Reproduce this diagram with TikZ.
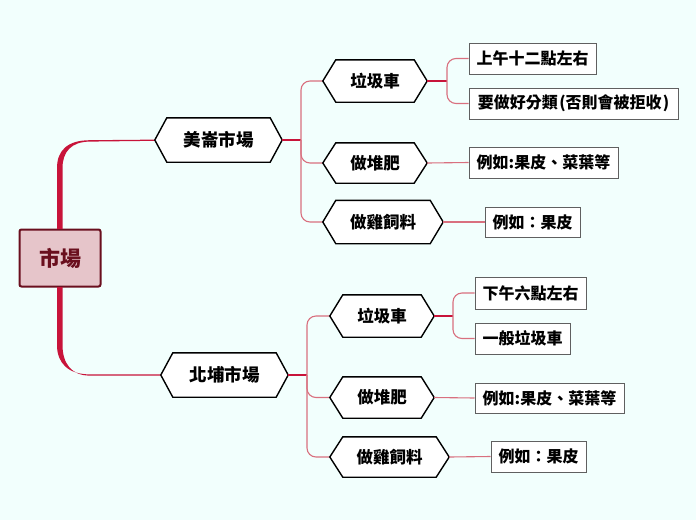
\documentclass[tikz,border=0pt]{standalone}
\usepackage{fontspec}
\setmainfont{Noto Sans CJK TC}
\begin{document}
\begin{tikzpicture}[x=1pt,y=-1pt,
  every node/.style={font=\bfseries},
  hexn/.style={inner sep=0pt, minimum height=42pt, text=black},
  leaf/.style={draw=leafgray, fill=white, line width=1pt, inner sep=0pt, minimum height=31pt, font=\bfseries\fontsize{16}{17}\selectfont},
  mainline/.style={draw=crim, line width=1.1pt},
  subline/.style={draw=pinkl, line width=1.1pt, rounded corners=9pt},
]
\definecolor{bg}{HTML}{F2FFFD}
\definecolor{crim}{HTML}{C8143A}
\definecolor{pinkl}{HTML}{D9707F}
\definecolor{leafgray}{HTML}{606060}
\definecolor{rootfill}{HTML}{E6C5CA}
\definecolor{rootdraw}{HTML}{6A0F1E}
\fill[bg] (0,0) rectangle (696,520);
\useasboundingbox (0,0) rectangle (696,520);

\newcommand{\hexof}[2]{%
  \draw[black, line width=1.4pt, fill=white]
    (#1.west) -- ([xshift=#2pt]#1.north west) -- ([xshift=-#2pt]#1.north east)
    -- (#1.east) -- ([xshift=-#2pt]#1.south east) -- ([xshift=#2pt]#1.south west) -- cycle;}

% root
\node[draw=rootdraw, fill=rootfill, line width=2pt, rounded corners=2pt,
  minimum width=81pt, minimum height=57pt, text=rootdraw,
  font=\bfseries\fontsize{21}{22}\selectfont] (root) at (60,258) {市場};

% tapered main branches
\fill[crim] (57,229) -- (57,168) .. controls (57,150) and (68,140.2) .. (90,140.2)
  -- (156,139.6) -- (156,140.8) -- (90,141.6) .. controls (71,141.6) and (62.5,152) .. (62.5,168)
  -- (62.5,229) -- cycle;
\fill[crim] (57,287) -- (57,345) .. controls (57,363) and (68,374.4) .. (90,374.4)
  -- (162,374.4) -- (162,375.6) -- (90,375.6) .. controls (71,375.6) and (62.5,363) .. (62.5,345)
  -- (62.5,287) -- cycle;

\node[hexn, minimum width=127pt, minimum height=44pt] (a) at (218.5,140) {};
\hexof{a}{12}
\node[font=\bfseries\fontsize{17.5}{18}\selectfont] (at) at (a) {美崙市場};
\node[hexn, minimum width=127pt, minimum height=44pt] (b) at (224.5,375) {};
\hexof{b}{12}
\node[font=\bfseries\fontsize{17.5}{18}\selectfont] (bt) at (b) {北埔市場};

% level 2 (top)
\node[hexn, minimum width=104pt] (a1) at (375,81) {};
\node[hexn, minimum width=104pt, minimum height=40pt] (a2) at (375,163) {};
\node[hexn, minimum width=120pt, minimum height=43pt] (a3) at (383,222) {};
% level 2 (bottom)
\node[hexn, minimum width=104pt] (b1) at (382,316) {};
\node[hexn, minimum width=104pt, minimum height=41pt] (b2) at (382,397.5) {};
\node[hexn, minimum width=119pt, minimum height=40pt] (b3) at (389.5,457) {};

% connectors level1 -> level2
\coordinate (ja) at (301,140);
\coordinate (jb) at (307,375);
\draw[mainline] (a.east) -- (ja);
\draw[mainline] (b.east) -- (jb);
\draw[subline] (a1.west) -| (ja) |- (a3.west);
\draw[subline] (ja) |- (a2.west);
\draw[subline] (b1.west) -| (jb) |- (b3.west);
\draw[subline] (jb) |- (b2.west);

\foreach \n in {a1,a2,a3,b1,b2,b3} {\hexof{\n}{13}}
\begin{scope}[every node/.style={font=\bfseries\fontsize{16.5}{17}\selectfont}]
\node (a1t) at (a1) {垃圾車};
\node (a2t) at (a2) {做堆肥};
\node (a3t) at (a3) {做雞飼料};
\node (b1t) at (b1) {垃圾車};
\node (b2t) at (b2) {做堆肥};
\node (b3t) at (b3) {做雞飼料};
\end{scope}

% leaves top
\node[leaf, minimum width=127pt] (l1) at (532.5,58.5) {上午十二點左右};
\node[leaf, minimum width=209pt] (l2) at (573.5,103.5) {要做好分類\hspace{1.5pt}(否則會被拒收\hspace{1pt})};
\node[leaf, minimum width=149pt] (l3) at (543.5,162.5) {例如:果皮、菜葉等};
\node[leaf, minimum width=95pt, minimum height=30pt] (l4) at (532.5,222) {例如：果皮};
% leaves bottom
\node[leaf, minimum width=111pt, minimum height=32pt] (k1) at (530.5,293) {下午六點左右};
\node[leaf, minimum width=95pt] (k2) at (522.5,338.5) {一般垃圾車};
\node[leaf, minimum width=149pt, minimum height=30pt] (k3) at (549.5,398) {例如:果皮、菜葉等};
\node[leaf, minimum width=95pt] (k4) at (538.5,456.5) {例如：果皮};

% connectors level2 -> leaves
\coordinate (ja1) at (447,81);
\coordinate (jb1) at (453,316);
\draw[mainline] (a1.east) -- (ja1);
\draw[subline] (l1.west) -| (ja1) |- (l2.west);
\draw[subline] (a2.east) -- (l3.west);
\draw[subline] (a3.east) -- (l4.west);
\draw[mainline] (b1.east) -- (jb1);
\draw[subline] (k1.west) -| (jb1) |- (k2.west);
\draw[subline] (b2.east) -- (k3.west);
\draw[subline] (b3.east) -- (k4.west);
\end{tikzpicture}
\end{document}
